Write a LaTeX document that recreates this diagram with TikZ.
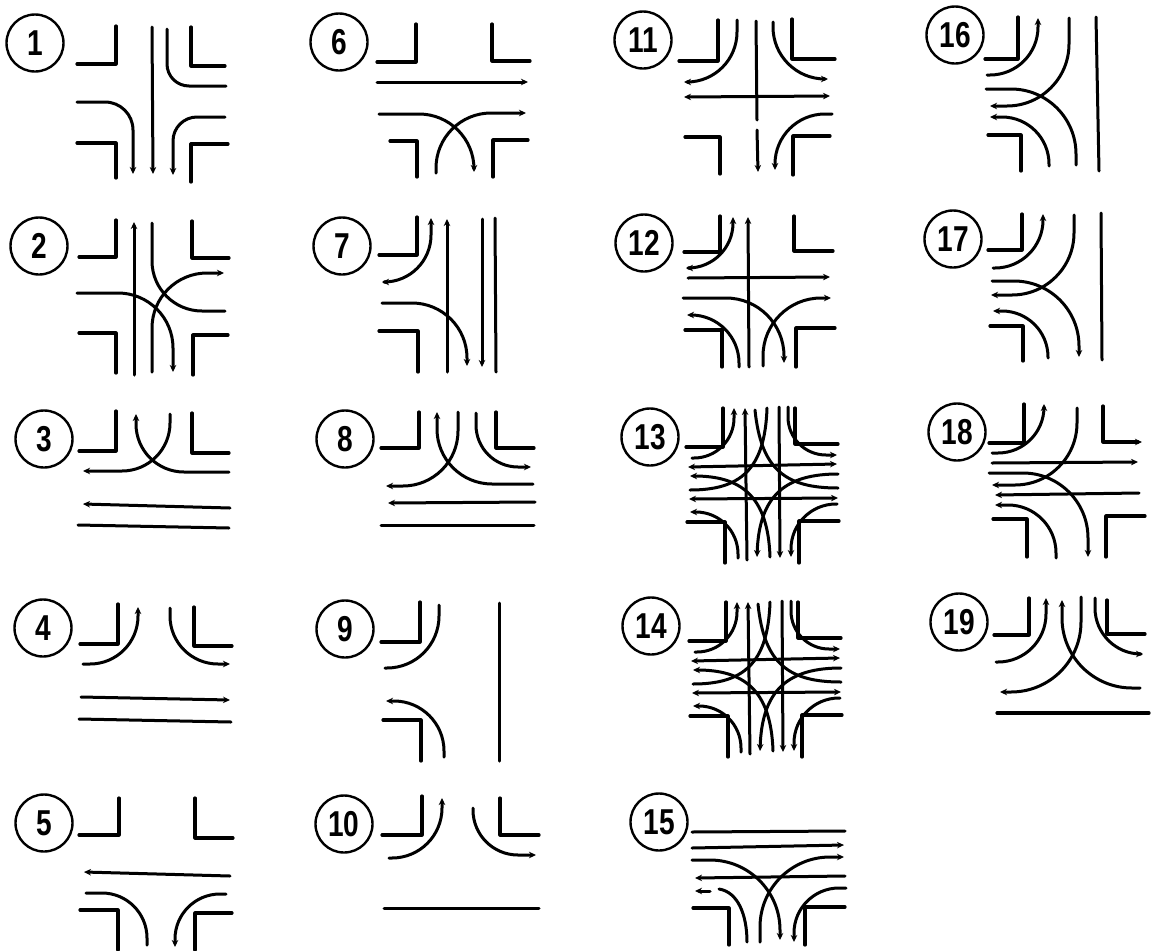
\documentclass[tikz,border=0pt]{standalone}
\usepackage{fontspec}
\newfontfamily\numfont[FakeStretch=0.78]{Liberation Sans}
\usetikzlibrary{arrows.meta}
\tikzset{
  kerb/.style={line width=3.2pt},
  lane/.style={line width=3pt},
  swing/.style={lane,rounded corners=#1pt},
  num/.style={circle,draw,line width=2.4pt,minimum size=57pt,inner sep=0pt,font=\numfont\bfseries\fontsize{36}{36}\selectfont}
}
\newcommand{\fullcross}{
  \draw[kerb] (686,447) -| (723,408); \draw[kerb] (795,408) |- (838,444);
  \draw[kerb] (687,522) -| (725,563); \draw[kerb] (839,521) -| (799,563);
  \draw[swing=40,<-] (734,408) |- (692,458); \draw[swing=38,->] (788,407) |- (837,455);
  \draw[swing=42,<-] (690,512) -| (738,558); \draw[swing=45,->] (837,504) -| (791,557);
  \draw[lane,<-] (745,408) -- (747,560); \draw[lane,->] (779,407) -- (780,558);
  \draw[lane,<->] (688,467) -- (837,464); \draw[lane,<->] (689,499) -- (838,498);
  \draw[lane] (767,408) .. controls (765,470) and (740,490) .. (690,490);
  \draw[lane] (755,410) .. controls (761,470) and (786,488) .. (838,488);
  \draw[lane,<-] (690,476) .. controls (740,476) and (768,495) .. (770,557);
  \draw[lane,->] (838,474) .. controls (786,474) and (759,495) .. (757,557);
}
\begin{document}
\begin{tikzpicture}[x=1pt,y=-1pt,line cap=round,line join=round,>={Stealth[length=7pt,width=6.5pt]}]
  \useasboundingbox (0,0) rectangle (1152,951);
  \foreach \n/\x/\y in {1/35/43,2/39/246,3/44/439,4/43/628,5/44/823,6/339/42,7/342/246,8/345/439,9/345/629,10/344/824,
    11/643/40,12/644/243,13/650/437,14/651/626,15/659/822,16/955/35,17/953/239,18/957/432,19/959/622}
    \node[num] (n\n) at (\x,\y) {\n};

  \draw[kerb] (77,64) -| (116,26); \draw[kerb] (191,27) |- (225,66);
  \draw[kerb] (77,143) -| (116,178); \draw[kerb] (228,144) -| (191,182);
  \draw[lane,->] (152,27) -- (153,174);
  \draw[swing=22] (167,29) |- (226,86);
  \draw[swing=28,->] (77,102) -| (133,174);
  \draw[swing=24,->] (225,117) -| (173,175);

  \draw[kerb] (79,257) -| (116,220); \draw[kerb] (192,221) |- (229,258);
  \draw[kerb] (79,333) -| (116,373); \draw[kerb] (228,335) -| (193,375);
  \draw[lane,<-] (134,222) -- (134,375);
  \draw[swing=50] (152,223) |- (225,311);
  \draw[swing=55,->] (77,293) -| (173,372);
  \draw[swing=55,->] (152,372) |- (224,273);

  \draw[kerb] (79,451) -| (116,411); \draw[kerb] (192,413) |- (229,453);
  \draw[swing=48,<-] (136,414) |- (229,472);
  \draw[swing=48,->] (170,414) |- (83,471);
  \draw[lane,<-] (83,504) -- (230,508);
  \draw[lane] (78,525) -- (229,528);

  \draw[kerb] (80,644) -| (118,604); \draw[kerb] (194,607) |- (232,646);
  \draw[swing=48,<-] (138,607) |- (83,664);
  \draw[swing=48,->] (170,608) |- (230,664);
  \draw[lane,->] (81,697) -- (230,700);
  \draw[lane] (79,719) -- (231,722);

  \draw[kerb] (79,835) -| (119,798); \draw[kerb] (195,798) |- (233,838);
  \draw[lane,<-] (84,872) -- (230,876);
  \draw[swing=45] (86,893) -| (147,945);
  \draw[swing=45,->] (226,894) -| (175,947);
  \draw[kerb] (80,910) -| (118,950); \draw[kerb] (232,913) -| (195,950);

  \draw[kerb] (377,62) -| (416,24); \draw[kerb] (492,24) |- (530,61);
  \draw[lane,->] (377,82) -- (528,82);
  \draw[swing=55,->] (379,114) -| (474,172);
  \draw[swing=55,->] (436,173) |- (526,113);
  \draw[kerb] (390,141) -| (417,177); \draw[kerb] (528,140) -| (493,177);

  \draw[kerb] (379,255) -| (417,217);
  \draw[swing=47,<->] (431,218) |- (382,282);
  \draw[lane,<-] (447,219) -- (447,372);
  \draw[lane,->] (482,219) -- (482,367);
  \draw[lane] (495,218) -- (496,372);
  \draw[swing=55,->] (382,303) -| (467,366);
  \draw[kerb] (379,331) -| (418,372);

  \draw[kerb] (381,448) -| (419,412); \draw[kerb] (496,412) |- (534,448);
  \draw[swing=55,<-] (437,412) |- (533,484);
  \draw[swing=55,->] (458,412) |- (386,486);
  \draw[swing=42,->] (476,413) |- (531,467);
  \draw[lane,<-] (388,503) -- (535,502);
  \draw[lane] (381,525) -- (534,525);

  \draw[kerb] (381,642) -| (420,602);
  \draw[swing=52] (439,605) |- (385,668);
  \draw[lane] (499,603) -- (499,761);
  \draw[swing=50,<-] (386,701) -| (444,757);
  \draw[kerb] (383,720) -| (421,761);

  \draw[kerb] (382,835) -| (422,796); \draw[kerb] (500,798) |- (539,835);
  \draw[swing=50,<-] (442,798) |- (389,858);
  \draw[swing=45,->] (473,808) |- (536,855);
  \draw[lane] (384,908) -- (539,908);

  \draw[kerb] (679,61) -| (718,20); \draw[kerb] (792,19) |- (835,59);
  \draw[swing=50,->] (737,20) |- (684,82);
  \draw[swing=52,->] (773,22) |- (828,79);
  \draw[lane,<->] (684,97) -- (830,96);
  \draw[lane] (756,21) -- (757,120); \draw[lane,->] (757,130) -- (758,172);
  \draw[kerb] (685,137) -| (720,174); \draw[kerb] (830,136) -| (793,175);
  \draw[swing=50,->] (832,114) -| (775,170);

  \draw[kerb] (684,252) -| (720,216); \draw[kerb] (794,216) |- (833,251);
  \draw[swing=45,<->] (733,217) |- (686,268);
  \draw[lane,<-] (748,217) -- (749,367);
  \draw[lane,->] (688,278) -- (830,277);
  \draw[swing=58,->] (683,298) -| (784,363);
  \draw[swing=58,->] (763,366) |- (831,298);
  \draw[swing=48,<-] (687,315) -| (739,367);
  \draw[kerb] (685,330) -| (722,367); \draw[kerb] (835,328) -| (796,367);

  \fullcross
  \begin{scope}[shift={(3,194)}]
    \fullcross
  \end{scope}

  \draw[lane] (692,832) -- (845,831);
  \draw[lane,->] (692,848) -- (844,845);
  \draw[swing=70,->] (692,860) -| (780,940);
  \draw[swing=70,->] (760,942) |- (844,857);
  \draw[lane,<-] (695,878) -- (845,876);
  \draw[lane,<-] (695,891) -- (710,891);
  \draw[lane] (719,889) .. controls (738,892) and (747,915) .. (747,942);
  \draw[swing=45,->] (846,888) -| (794,942);
  \draw[kerb] (693,908) -| (729,945); \draw[kerb] (845,907) -| (805,945);

  \draw[kerb] (985,59) -| (1018,17);
  \draw[swing=48,<-] (1038,18) |- (987,75);
  \draw[swing=62,->] (1069,18) |- (990,106);
  \draw[swing=65] (986,89) -| (1076,165);
  \draw[swing=47,<-] (990,117) -| (1049,166);
  \draw[kerb] (988,135) -| (1021,171);
  \draw[lane] (1096,17) -- (1099,171);

  \draw[kerb] (988,250) -| (1022,214);
  \draw[swing=48,<-] (1043,214) |- (993,268);
  \draw[swing=62,->] (1074,215) |- (991,295);
  \draw[swing=65,->] (992,281) -| (1079,357);
  \draw[swing=46,<-] (993,311) -| (1048,358);
  \draw[kerb] (990,326) -| (1023,361);
  \draw[lane] (1101,213) -- (1102,360);

  \draw[kerb] (989,443) -| (1024,404); \draw[kerb,->] (1103,406) |- (1142,442);
  \draw[swing=46,<-] (1044,404) |- (992,453);
  \draw[swing=62,->] (1077,408) |- (992,485);
  \draw[lane,->] (992,463) -- (1138,462);
  \draw[swing=65,->] (989,473) -| (1088,557);
  \draw[lane,<-] (995,495) -- (1139,493);
  \draw[swing=48,<-] (995,505) -| (1056,558);
  \draw[kerb] (993,519) -| (1027,557); \draw[kerb] (1145,516) -| (1106,557);

  \draw[kerb] (994,635) -| (1029,598); \draw[kerb] (1107,600) |- (1145,634);
  \draw[swing=48,<-] (1046,598) |- (996,662);
  \draw[swing=70,<-] (1062,600) |- (1140,688);
  \draw[swing=70,->] (1081,597) |- (1000,692);
  \draw[swing=46,->] (1095,598) |- (1143,654);
  \draw[kerb] (997,713) -- (1149,713);
\end{tikzpicture}
\end{document}
